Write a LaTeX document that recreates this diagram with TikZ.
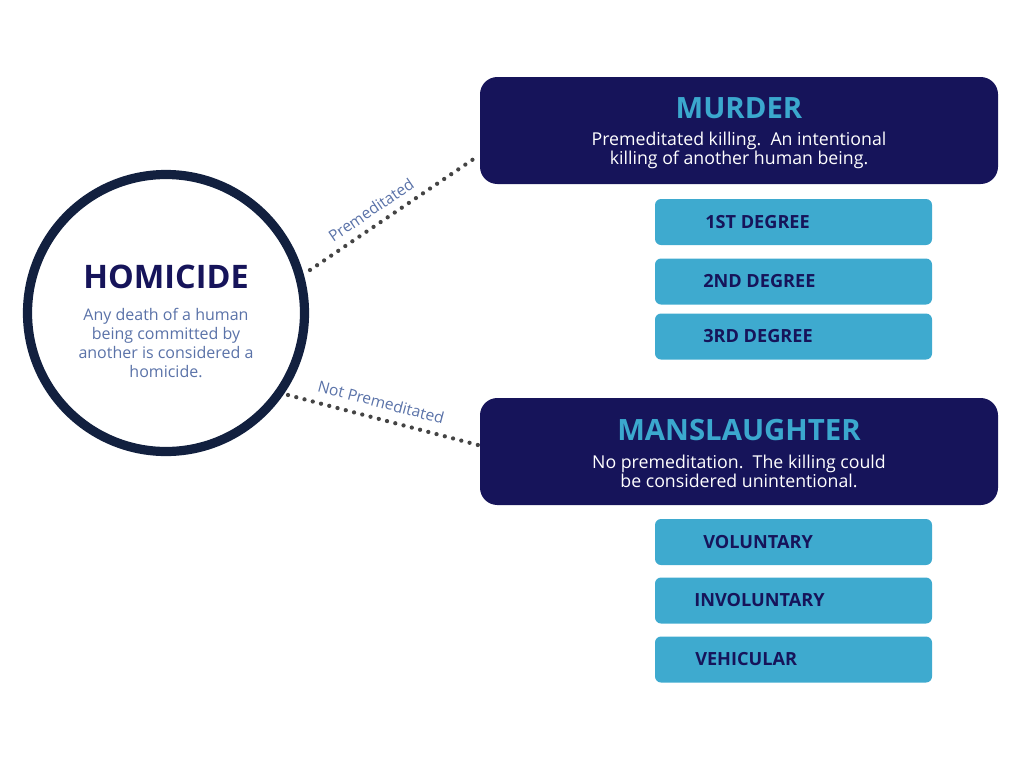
\documentclass[tikz,border=0pt]{standalone}
\usepackage{fontspec}
\setmainfont{Open Sans}
\definecolor{navy}{HTML}{16145A}
\definecolor{ring}{HTML}{12203F}
\definecolor{cyanT}{HTML}{3BA8CE}
\definecolor{subfill}{HTML}{3EAACF}
\definecolor{slate}{HTML}{5A72A8}
\definecolor{dotc}{HTML}{444444}
\tikzset{
  bigbox/.style={fill=navy, rounded corners=13pt, minimum width=388.5pt, minimum height=80.25pt, inner sep=0pt},
  subbox/.style={fill=subfill, rounded corners=4.5pt, minimum width=207.75pt, minimum height=34.5pt, inner sep=0pt},
  subtxt/.style={anchor=west, text=navy, font=\bfseries\fontsize{13.6}{15}\selectfont, inner sep=0pt},
  boxtitle/.style={text=cyanT, font=\bfseries\fontsize{22}{24}\selectfont, inner sep=0pt},
  boxdesc/.style={text=white, align=center, font=\fontsize{13.3}{14.6}\selectfont, inner sep=0pt},
  dots/.style={dotc, line width=3.2pt, line cap=round, dash pattern=on 0pt off 6.4pt},
  lbl/.style={text=slate, font=\fontsize{11.7}{13}\selectfont, inner sep=0pt}
}
\begin{document}
\begin{tikzpicture}[x=0.75pt,y=-0.75pt]
\useasboundingbox (0,0) rectangle (1024,768);
% circle
\node[circle, draw=ring, line width=6.9pt, minimum size=207.75pt, inner sep=0pt] (homicide) at (166,313) {};
\node[text=navy, font=\bfseries\fontsize{24.3}{26}\selectfont, inner sep=0pt] (htitle) at (166,277) {HOMICIDE};
\node[text=slate, align=center, font=\fontsize{12}{14.25}\selectfont, inner sep=0pt] (hdesc) at (166,342.5) {Any death of a human\\being committed by\\another is considered a\\homicide.};
% big boxes
\node[bigbox] (murder) at (739,130.5) {};
\node[boxtitle] (mtitle) at (739,108) {MURDER};
\node[boxdesc] (mdesc) at (739,150.5) {Premeditated killing.\ \ An intentional\\killing of another human being.};
\node[bigbox] (mansl) at (739,451.5) {};
\node[boxtitle] (stitle) at (739,430) {MANSLAUGHTER};
\node[boxdesc] (sdesc) at (739,471.5) {No premeditation.\ \ The killing could\\be considered unintentional.};
% sub boxes
\node[subbox] (d1) at (793.5,222) {};
\node[subtxt] at (705,222) {1ST DEGREE};
\node[subbox] (d2) at (793.5,281.5) {};
\node[subtxt] at (703,281.5) {2ND DEGREE};
\node[subbox] (d3) at (793.5,336.5) {};
\node[subtxt] at (703,336.5) {3RD DEGREE};
\node[subbox] (v1) at (793.5,542) {};
\node[subtxt] at (703,542) {VOLUNTARY};
\node[subbox] (v2) at (793.5,600.5) {};
\node[subtxt] at (694,600.5) {INVOLUNTARY};
\node[subbox] (v3) at (793.5,659.5) {};
\node[subtxt] at (695,659.5) {VEHICULAR};
% connectors
\coordinate (p0) at (310,270);
\coordinate (p1) at (478,156);
\coordinate (q0) at (288,395);
\coordinate (q1) at (478,445);
\draw[dots] (p0) -- (p1);
\draw[dots] (q0) -- (q1);
\node[lbl, rotate=34.2] (lp) at (371,210) {Premeditated};
\node[lbl, rotate=-14.7] (lq) at (381,402) {Not Premeditated};
\end{tikzpicture}
\end{document}
